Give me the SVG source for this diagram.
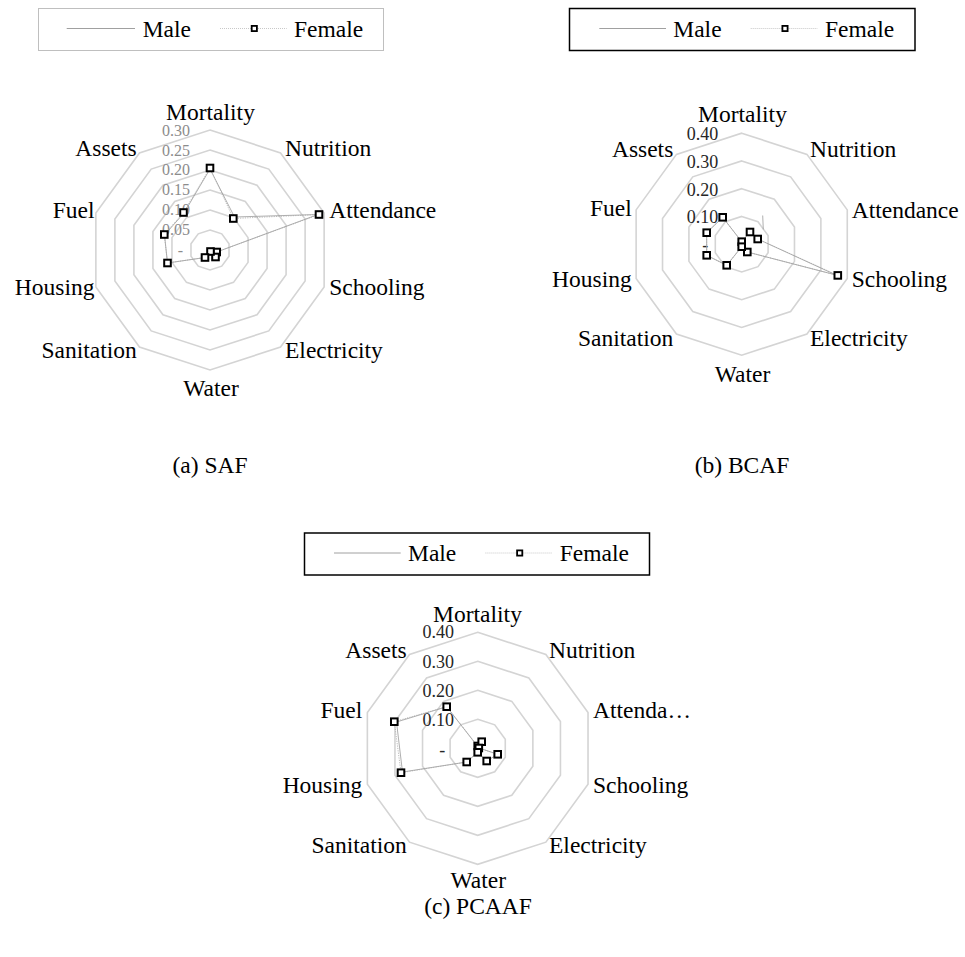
<svg xmlns="http://www.w3.org/2000/svg" xmlns:xlink="http://www.w3.org/1999/xlink" width="965" height="957" viewBox="0 0 965 957">
<style>
text{font-family:"Liberation Serif","Times New Roman",serif;fill:#000}
.lab{font-size:23.5px}
.mid{text-anchor:middle}
.end{text-anchor:end}
.tka{font-size:16px;fill:#8c8c8c;text-anchor:end}
.tk{font-size:18px;fill:#262626;text-anchor:end}
.grid{fill:none;stroke:#d4d4d4;stroke-width:1.6;vector-effect:non-scaling-stroke}
.male{fill:none;stroke:#9a9a9a;stroke-width:0.8}
.fem{fill:none;stroke:#a8a8a8;stroke-width:0.8;stroke-dasharray:1.2 1.2}
.lgmale{stroke:#a0a0a0;stroke-width:1}
.lgfem{stroke:#c8c8c8;stroke-width:1;stroke-dasharray:1 1}
</style>
<defs>
<polygon id="dec" class="grid" points="0,-1 0.5878,-0.809 0.9511,-0.309 0.9511,0.309 0.5878,0.809 0,1 -0.5878,0.809 -0.9511,0.309 -0.9511,-0.309 -0.5878,-0.809"/>
<rect id="sq" x="-3.3" y="-3.3" width="6.6" height="6.6" fill="#fff" stroke="#000" stroke-width="2"/>
<rect id="lsq" x="-2.6" y="-2.6" width="5.2" height="5.2" fill="#fff" stroke="#000" stroke-width="1.8"/>
</defs>
<rect width="965" height="957" fill="#fff"/>

<!-- Chart A -->
<g id="legendA">
<rect x="38.5" y="8.5" width="345" height="42" fill="#fff" stroke="#bfbfbf" stroke-width="1"/>
<line class="lgmale" x1="66.7" y1="28.5" x2="135" y2="28.5"/>
<text class="lab" x="142.7" y="36.8">Male</text>
<line class="lgfem" x1="220" y1="28.5" x2="286.7" y2="28.5"/>
<use xlink:href="#lsq" x="254.3" y="28.5"/>
<text class="lab" x="294" y="36.8">Female</text>
</g>
<g id="chartA">
<g id="gridA">
<use xlink:href="#dec" transform="translate(210,250) scale(20)"/>
<use xlink:href="#dec" transform="translate(210,250) scale(40)"/>
<use xlink:href="#dec" transform="translate(210,250) scale(60)"/>
<use xlink:href="#dec" transform="translate(210,250) scale(80)"/>
<use xlink:href="#dec" transform="translate(210,250) scale(100)"/>
<use xlink:href="#dec" transform="translate(210,250) scale(120)"/>
</g>
<g id="ticksA">
<text class="tka" x="190" y="136">0.30</text>
<text class="tka" x="190" y="155.5">0.25</text>
<text class="tka" x="190" y="175">0.20</text>
<text class="tka" x="190" y="194.5">0.15</text>
<text class="tka" x="190" y="215">0.10</text>
<text class="tka" x="190" y="234.5">0.05</text>
<text class="tka" x="183" y="256">-</text>
</g>
<g id="axesA" class="lab">
<text class="mid" x="210.5" y="120">Mortality</text>
<text x="285" y="156">Nutrition</text>
<text x="329.3" y="218.3">Attendance</text>
<text x="329.3" y="295">Schooling</text>
<text x="285" y="358">Electricity</text>
<text class="mid" x="211" y="396">Water</text>
<text class="end" x="136.7" y="358">Sanitation</text>
<text class="end" x="94.5" y="295">Housing</text>
<text class="end" x="94.5" y="218.3">Fuel</text>
<text class="end" x="136.7" y="156">Assets</text>
</g>
<g id="seriesA">
<polygon class="male" points="210,169 234.5,217 318,214.5 216.7,252 215.5,257 210.5,251.5 205,257.5 167.5,263 164.5,235 184,213"/>
<polygon class="fem" points="210,168 233.3,218.5 319,214.5 216.7,252 215.5,257 210.5,251.5 205,257.5 167.5,263 164.3,234.5 183.5,212.5"/>
<use xlink:href="#sq" x="210" y="168"/>
<use xlink:href="#sq" x="233.3" y="218.5"/>
<use xlink:href="#sq" x="319" y="214.5"/>
<use xlink:href="#sq" x="216.7" y="252"/>
<use xlink:href="#sq" x="215.5" y="257"/>
<use xlink:href="#sq" x="210.5" y="251.5"/>
<use xlink:href="#sq" x="205" y="257.5"/>
<use xlink:href="#sq" x="167.5" y="263"/>
<use xlink:href="#sq" x="164.3" y="234.5"/>
<use xlink:href="#sq" x="183.5" y="212.5"/>
</g>
<text class="lab mid" x="210" y="473">(a) SAF</text>
</g>

<!-- Chart B -->
<g id="legendB">
<rect x="569.5" y="8.5" width="345.5" height="42" fill="#fff" stroke="#000" stroke-width="1.5"/>
<line class="lgmale" x1="599.3" y1="28.5" x2="666" y2="28.5"/>
<text class="lab" x="673.3" y="36.8">Male</text>
<line class="lgfem" x1="750.7" y1="28.5" x2="817.3" y2="28.5"/>
<use xlink:href="#lsq" x="785" y="28.5"/>
<text class="lab" x="825" y="36.8">Female</text>
</g>
<g id="chartB">
<g id="gridB">
<use xlink:href="#dec" transform="translate(741.7,244.2) scale(27.75)"/>
<use xlink:href="#dec" transform="translate(741.7,244.2) scale(55.5)"/>
<use xlink:href="#dec" transform="translate(741.7,244.2) scale(83.25)"/>
<use xlink:href="#dec" transform="translate(741.7,244.2) scale(111)"/>
</g>
<g id="ticksB">
<text class="tk" x="718.3" y="140">0.40</text>
<text class="tk" x="718.3" y="168.3">0.30</text>
<text class="tk" x="718.3" y="196">0.20</text>
<text class="tk" x="718.3" y="223.3">0.10</text>
<text class="tk" x="708.3" y="251">-</text>
</g>
<g id="axesB" class="lab">
<text class="mid" x="742.5" y="121.7">Mortality</text>
<text x="810" y="156.7">Nutrition</text>
<text x="851.7" y="218">Attendance</text>
<text x="851.7" y="286.7">Schooling</text>
<text x="810" y="345.7">Electricity</text>
<text class="mid" x="742.5" y="381.7">Water</text>
<text class="end" x="673.3" y="345.7">Sanitation</text>
<text class="end" x="631.7" y="286.7">Housing</text>
<text class="end" x="631.7" y="216">Fuel</text>
<text class="end" x="673.3" y="156.7">Assets</text>
</g>
<g id="seriesB">
<polygon class="male" points="741.7,241.7 750,232 757.7,239 836,275 747.3,252 741.7,246.7 726.7,265.3 706.7,255.3 706.7,232.7 722.7,217.3"/>
<path class="male" d="M762.7,215.5 L763.3,229.5"/>
<polygon class="fem" points="741.7,241.7 750,232 757.7,239 837.8,275.4 747.3,252 741.7,246.7 726.7,265.3 706.7,255.3 706.7,232.7 722.7,217.3"/>
<use xlink:href="#sq" x="741.7" y="241.7"/>
<use xlink:href="#sq" x="750" y="232"/>
<use xlink:href="#sq" x="757.7" y="239"/>
<use xlink:href="#sq" x="837.8" y="275.4"/>
<use xlink:href="#sq" x="747.3" y="252"/>
<use xlink:href="#sq" x="741.7" y="246.7"/>
<use xlink:href="#sq" x="726.7" y="265.3"/>
<use xlink:href="#sq" x="706.7" y="255.3"/>
<use xlink:href="#sq" x="706.7" y="232.7"/>
<use xlink:href="#sq" x="722.7" y="217.3"/>
</g>
<text class="lab mid" x="742" y="473">(b) BCAF</text>
</g>

<!-- Chart C -->
<g id="legendC">
<rect x="304.5" y="533" width="345" height="42" fill="#fff" stroke="#000" stroke-width="1.5"/>
<line class="lgmale" x1="334" y1="553" x2="400.7" y2="553"/>
<text class="lab" x="408" y="561.3">Male</text>
<line class="lgfem" x1="485.4" y1="553" x2="552" y2="553"/>
<use xlink:href="#lsq" x="519.7" y="553"/>
<text class="lab" x="559.7" y="561.3">Female</text>
</g>
<g id="chartC">
<g id="gridC">
<use xlink:href="#dec" transform="translate(477.7,748.3) scale(29)"/>
<use xlink:href="#dec" transform="translate(477.7,748.3) scale(58)"/>
<use xlink:href="#dec" transform="translate(477.7,748.3) scale(87)"/>
<use xlink:href="#dec" transform="translate(477.7,748.3) scale(116)"/>
</g>
<g id="ticksC">
<text class="tk" x="454" y="638.3">0.40</text>
<text class="tk" x="454" y="668.3">0.30</text>
<text class="tk" x="454" y="696.7">0.20</text>
<text class="tk" x="454" y="725.7">0.10</text>
<text class="tk" x="445.3" y="756">-</text>
</g>
<g id="axesC" class="lab">
<text class="mid" x="477.5" y="621.7">Mortality</text>
<text x="549" y="658.3">Nutrition</text>
<text x="593" y="718.3">Attenda…</text>
<text x="593" y="793.3">Schooling</text>
<text x="549" y="853.3">Electricity</text>
<text class="mid" x="478.3" y="888.3">Water</text>
<text class="end" x="406.7" y="853.3">Sanitation</text>
<text class="end" x="362.3" y="793.3">Housing</text>
<text class="end" x="362.3" y="718.3">Fuel</text>
<text class="end" x="406.7" y="658.3">Assets</text>
</g>
<g id="seriesC">
<polygon class="male" points="477.7,746.5 481.7,741.7 479,748 497.7,754.3 486.7,761 477.7,752.3 466.7,762 402.5,772 396.5,722 446.7,706.7"/>
<polygon class="fem" points="477.7,746 481.7,741.7 478.8,748 497.7,754.3 486.7,761 477.7,752.3 466.7,762 401,772.7 394.3,721.7 446.7,706.7"/>
<use xlink:href="#sq" x="477.7" y="746"/>
<use xlink:href="#sq" x="481.7" y="741.7"/>
<use xlink:href="#sq" x="478.8" y="748"/>
<use xlink:href="#sq" x="497.7" y="754.3"/>
<use xlink:href="#sq" x="486.7" y="761"/>
<use xlink:href="#sq" x="477.7" y="752.3"/>
<use xlink:href="#sq" x="466.7" y="762"/>
<use xlink:href="#sq" x="401" y="772.7"/>
<use xlink:href="#sq" x="394.3" y="721.7"/>
<use xlink:href="#sq" x="446.7" y="706.7"/>
</g>
<text class="lab mid" x="478" y="914">(c) PCAAF</text>
</g>
</svg>
